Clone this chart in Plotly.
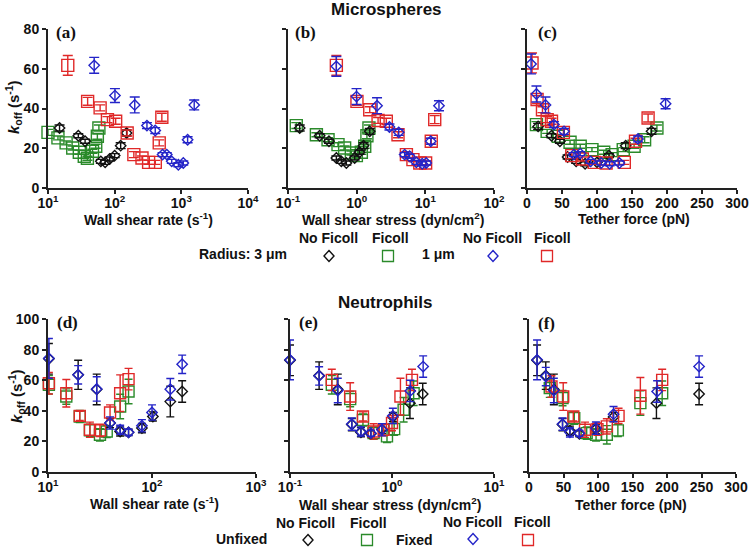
import plotly.graph_objects as go

W, H = 751, 547

# ---------------- colours ----------------
BLACK = "#111111"
GREEN = "#2a8a2a"
BLUE = "#2424c8"
RED = "#e02828"

# ---------------- Panel (a): microspheres vs wall shear rate ----------------
A_BLACK_X = [14.9, 28.5, 36, 62, 72, 84, 100, 123, 151]
A_BLACK_Y = [30.2, 26.3, 23.5, 13.4, 12.9, 14.6, 16.3, 21.3, 27.7]
A_BLACK_E = [1.5, 1, 1, 1, 1, 1, 1, 1.5, 1.5]
A_GREEN_X = [10, 14.1, 18.7, 23.5, 29.5, 35, 39, 46.5, 52, 55, 58]
A_GREEN_Y = [28, 25.2, 22.7, 20.1, 18, 16, 15, 18.5, 21, 26, 30.2]
A_GREEN_E = [1.5, 1, 1, 1, 1, 1, 1, 1, 1, 1.5, 1.5]
A_RED_X = [19.8, 39.3, 60.5, 77.9, 103.5, 154, 194, 257, 323, 407, 466, 510]
A_RED_Y = [61.7, 43.6, 40.3, 34.4, 33.6, 27.7, 16.8, 15.1, 12.9, 12.9, 22.7, 35.6]
A_RED_E = [5, 2, 1.5, 1.5, 1.5, 1.5, 1.5, 1, 1, 1, 1.5, 2]
A_BLUE_X = [49.3, 101, 200, 305, 406, 523, 605, 718, 902, 1070, 1242, 1560]
A_BLUE_Y = [61.7, 46.5, 41.8, 31.4, 28.9, 16.8, 16.8, 13.4, 11.7, 12.6, 24.3, 41.8]
A_BLUE_E = [4, 3.5, 4, 1.5, 1.5, 1, 1, 1, 1, 1, 1.5, 2.5]

# ---------------- Panel (b): microspheres vs wall shear stress ----------------
B_BLACK_X = [0.148, 0.289, 0.395, 0.506, 0.598, 0.708, 0.935, 1.1, 1.26, 1.55]
B_BLACK_Y = [30.2, 26.3, 23.5, 15.1, 13.4, 12.6, 15.1, 18, 21.3, 28.5]
B_BLACK_E = [1.5, 1, 1, 1, 1, 1, 1, 1, 1.5, 1.5]
B_GREEN_X = [0.132, 0.259, 0.383, 0.535, 0.668, 0.836, 0.99, 1.17, 1.31, 1.41, 1.51]
B_GREEN_Y = [31.4, 26.8, 24.3, 21.8, 20.1, 17.6, 16.3, 18, 21, 26.3, 30.2]
B_GREEN_E = [1.5, 1, 1, 1, 1, 1, 1, 1, 1, 1.5, 1.5]
B_RED_X = [0.506, 1.01, 1.55, 2.05, 2.7, 4.0, 5.3, 6.6, 8.3, 10.1, 12.2, 13.7]
B_RED_Y = [61.7, 43.6, 39.4, 34, 33.6, 26.8, 16.8, 14.3, 12.6, 12.6, 23.5, 34.4]
B_RED_E = [5, 2, 1.5, 1.5, 1.5, 1.5, 1.5, 1, 1, 1, 1.5, 2]
B_BLUE_X = [0.506, 0.995, 1.98, 3.0, 4.1, 5.0, 5.9, 7.4, 9.0, 10.3, 12, 15.8]
B_BLUE_Y = [61.2, 46, 41.4, 30.7, 28, 16.8, 16, 12.9, 12.2, 12.6, 23.5, 41.4]
B_BLUE_E = [5, 4, 4, 1.5, 1.5, 1, 1, 1, 1, 1, 1.5, 2.5]

# ---------------- Panel (c): microspheres vs tether force ----------------
C_BLACK_X = [15.9, 35, 47, 58, 70.2, 83, 100, 117, 141, 177.9]
C_BLACK_Y = [31, 26.3, 23.5, 15.6, 13.4, 12.2, 12.9, 16.3, 21.3, 28.5]
C_BLACK_E = [1.5, 1, 1, 1, 1, 1, 1, 1, 1.5, 1.5]
C_GREEN_X = [13.5, 28.8, 44.7, 61.5, 76, 92.8, 109.6, 121.6, 137.5, 153, 168, 185.6]
C_GREEN_Y = [31.9, 28.5, 26, 23, 21, 19.3, 18, 16.8, 19.3, 21, 24.3, 30.2]
C_GREEN_E = [1.5, 1, 1, 1, 1, 1, 1, 1, 1, 1, 1.5, 1.5]
C_RED_X = [7.2, 14.4, 22.1, 28.8, 35, 52, 64, 79, 96, 113, 139, 155, 173]
C_RED_Y = [62.9, 44.5, 39.4, 34.4, 33.6, 28, 16.3, 14.6, 12.9, 12.6, 12.9, 23.5, 35.2]
C_RED_E = [5, 2, 1.5, 1.5, 1.5, 1.5, 1.5, 1, 1, 1, 1, 1.5, 2]
C_BLUE_X = [5.8, 13.5, 26.4, 38.5, 52.9, 67, 76, 91, 106, 118, 132, 158.6, 198]
C_BLUE_Y = [62.4, 47.3, 41.8, 31.9, 28.5, 16.8, 17.3, 13.4, 12.6, 12.2, 12.6, 24.7, 42.4]
C_BLUE_E = [5, 4, 4, 1.5, 1.5, 1, 1, 1, 1, 1, 1, 1.5, 2.5]

# ---------------- Panel (d): neutrophils vs wall shear rate ----------------
D_BLACK_X = [10.2, 19.5, 29.4, 39.5, 49.4, 59.5, 80, 102, 150, 195]
D_BLACK_Y = [74, 63.5, 54, 32, 26.5, 25.9, 28.7, 36.3, 46, 52.6]
D_BLACK_E = [10, 9.5, 10, 3, 3, 2, 3, 3, 10, 7]
D_GREEN_X = [10.2, 15, 20.2, 25.3, 31.6, 36.7, 49.4, 59.5]
D_GREEN_Y = [57, 49.3, 36.3, 27.2, 24.3, 26.5, 42.8, 52.6]
D_GREEN_E = [6, 5, 4, 4, 4, 4, 8, 8]
D_RED_X = [10.2, 15, 20.2, 25.3, 31.6, 39.5, 49.4, 59.5]
D_RED_Y = [58, 51.5, 36.7, 27.6, 27.2, 38.9, 51.5, 60.7]
D_RED_E = [7, 9, 3, 5, 4, 5, 12, 7]
D_BLUE_X = [10.2, 19.5, 29.4, 39.5, 49.4, 59.5, 80, 100, 150, 195]
D_BLUE_Y = [74.3, 63.5, 54.3, 32, 27.6, 25.9, 30.2, 38.9, 54.1, 70.4]
D_BLUE_E = [13, 6, 8, 4, 3, 2, 4, 5, 7, 6]

# ---------------- Panel (e): neutrophils vs wall shear stress ----------------
E_BLACK_X = [0.1, 0.193, 0.294, 0.404, 0.496, 0.621, 0.797, 1.02, 1.5, 2.0]
E_BLACK_Y = [73, 63, 54, 31, 26, 25, 28, 36, 45, 51]
E_BLACK_E = [10, 9, 10, 4, 3, 2, 3, 3, 10, 7]
E_GREEN_X = [0.257, 0.389, 0.519, 0.66, 0.893, 1.05, 1.3, 1.63]
E_GREEN_Y = [57, 47.6, 34, 25.4, 23.3, 28, 40.7, 51.5]
E_GREEN_E = [6, 5, 4, 4, 4, 4, 8, 8]
E_RED_X = [0.257, 0.389, 0.519, 0.66, 0.828, 1.0, 1.21, 1.57]
E_RED_Y = [60.2, 49.3, 36.3, 26.5, 27.6, 32, 49.3, 60.2]
E_RED_E = [7, 9, 3, 5, 4, 5, 12, 7]
E_BLUE_X = [0.1, 0.193, 0.294, 0.404, 0.496, 0.621, 0.797, 1.02, 1.51, 2.02]
E_BLUE_Y = [73.3, 62.8, 53.3, 31.3, 26.5, 25.4, 27.6, 36.7, 53, 68.9]
E_BLUE_E = [13, 6, 8, 4, 3, 2, 4, 5, 7, 7]

# ---------------- Panel (f): neutrophils vs tether force ----------------
F_BLACK_X = [11.7, 24.3, 36, 48.6, 59.3, 73, 97, 122.5, 184.7, 246.5]
F_BLACK_Y = [73, 63, 54, 31, 27, 25, 28, 36, 45, 51]
F_BLACK_E = [10, 9, 10, 4, 3, 2, 3, 3, 10, 7]
F_GREEN_X = [30.1, 48.6, 65.6, 83.6, 97.2, 112.8, 128.8, 161.4, 193]
F_GREEN_Y = [54.8, 48.3, 35.2, 25.4, 24.3, 24.3, 27.2, 45, 51.5]
F_GREEN_E = [6, 5, 4, 4, 4, 6, 4, 8, 8]
F_RED_X = [32.6, 49.6, 64.2, 81.2, 99.2, 112.8, 129.8, 161.4, 193]
F_RED_Y = [55.9, 49.3, 36.3, 27.6, 28, 29.8, 36.7, 49.8, 60.2]
F_RED_E = [7, 9, 3, 5, 4, 5, 5, 12, 7]
F_BLUE_X = [11.7, 24.3, 36, 48.6, 59.3, 73, 97, 122.5, 185.7, 246.5]
F_BLUE_Y = [73.3, 62.4, 53.3, 31.3, 25.9, 25.4, 28.7, 37.8, 52.6, 68.9]
F_BLUE_E = [13, 6, 8, 4, 3, 2, 4, 5, 7, 7]

# ---------------- tick labels ----------------
RATE_TOP_VALS = [10, 100, 1000, 10000]
RATE_TOP_TEXT = ["10<sup>1</sup>", "10<sup>2</sup>", "10<sup>3</sup>", "10<sup>4</sup>"]
STRESS_TOP_VALS = [0.1, 1, 10, 100]
STRESS_TOP_TEXT = ["10<sup>-1</sup>", "10<sup>0</sup>", "10<sup>1</sup>", "10<sup>2</sup>"]
RATE_BOT_VALS = [10, 100, 1000]
RATE_BOT_TEXT = ["10<sup>1</sup>", "10<sup>2</sup>", "10<sup>3</sup>"]
STRESS_BOT_VALS = [0.1, 1, 10]
STRESS_BOT_TEXT = ["10<sup>-1</sup>", "10<sup>0</sup>", "10<sup>1</sup>"]
FORCE_VALS = [0, 50, 100, 150, 200, 250, 300]
KOFF_TOP_VALS = [0, 20, 40, 60, 80]
KOFF_BOT_VALS = [0, 20, 40, 60, 80, 100]

FONT = "Liberation Sans, Arial, Helvetica, sans-serif"


def px_x(p):
    return p / W


def px_y(p):
    return 1 - p / H


fig = go.Figure()


def add_series(n, x, y, e, color, symbol, size, capw):
    fig.add_trace(go.Scatter(
        x=x, y=y, mode="markers",
        xaxis="x" + ("" if n == 1 else str(n)),
        yaxis="y" + ("" if n == 1 else str(n)),
        marker=dict(symbol=symbol, size=size, color=color, line=dict(width=1.4, color=color)),
        error_y=dict(type="data", array=e, visible=True, color=color, thickness=1.4, width=capw),
        cliponaxis=False, showlegend=False, hoverinfo="skip",
    ))


top_sq, top_di, cap_top = 12, 8, 5
bot_sq, bot_di, cap_bot = 11, 8, 4

add_series(1, A_GREEN_X, A_GREEN_Y, A_GREEN_E, GREEN, "square-open", top_sq, cap_top)
add_series(1, A_BLACK_X, A_BLACK_Y, A_BLACK_E, BLACK, "diamond-open", top_di, cap_top)
add_series(1, A_RED_X, A_RED_Y, A_RED_E, RED, "square-open", top_sq, cap_top)
add_series(1, A_BLUE_X, A_BLUE_Y, A_BLUE_E, BLUE, "diamond-open", top_di, cap_top)

add_series(2, B_GREEN_X, B_GREEN_Y, B_GREEN_E, GREEN, "square-open", top_sq, cap_top)
add_series(2, B_BLACK_X, B_BLACK_Y, B_BLACK_E, BLACK, "diamond-open", top_di, cap_top)
add_series(2, B_RED_X, B_RED_Y, B_RED_E, RED, "square-open", top_sq, cap_top)
add_series(2, B_BLUE_X, B_BLUE_Y, B_BLUE_E, BLUE, "diamond-open", top_di, cap_top)

add_series(3, C_GREEN_X, C_GREEN_Y, C_GREEN_E, GREEN, "square-open", top_sq, cap_top)
add_series(3, C_BLACK_X, C_BLACK_Y, C_BLACK_E, BLACK, "diamond-open", top_di, cap_top)
add_series(3, C_RED_X, C_RED_Y, C_RED_E, RED, "square-open", top_sq, cap_top)
add_series(3, C_BLUE_X, C_BLUE_Y, C_BLUE_E, BLUE, "diamond-open", top_di, cap_top)

add_series(4, D_GREEN_X, D_GREEN_Y, D_GREEN_E, GREEN, "square-open", bot_sq, cap_bot)
add_series(4, D_BLACK_X, D_BLACK_Y, D_BLACK_E, BLACK, "diamond-open", bot_di, cap_bot)
add_series(4, D_RED_X, D_RED_Y, D_RED_E, RED, "square-open", bot_sq, cap_bot)
add_series(4, D_BLUE_X, D_BLUE_Y, D_BLUE_E, BLUE, "diamond-open", bot_di, cap_bot)

add_series(5, E_GREEN_X, E_GREEN_Y, E_GREEN_E, GREEN, "square-open", bot_sq, cap_bot)
add_series(5, E_BLACK_X, E_BLACK_Y, E_BLACK_E, BLACK, "diamond-open", bot_di, cap_bot)
add_series(5, E_RED_X, E_RED_Y, E_RED_E, RED, "square-open", bot_sq, cap_bot)
add_series(5, E_BLUE_X, E_BLUE_Y, E_BLUE_E, BLUE, "diamond-open", bot_di, cap_bot)

add_series(6, F_GREEN_X, F_GREEN_Y, F_GREEN_E, GREEN, "square-open", bot_sq, cap_bot)
add_series(6, F_BLACK_X, F_BLACK_Y, F_BLACK_E, BLACK, "diamond-open", bot_di, cap_bot)
add_series(6, F_RED_X, F_RED_Y, F_RED_E, RED, "square-open", bot_sq, cap_bot)
add_series(6, F_BLUE_X, F_BLUE_Y, F_BLUE_E, BLUE, "diamond-open", bot_di, cap_bot)

TICKFONT = dict(family=FONT, size=14, color="#111111", weight="bold")


def xax(dom, anchor, typ, rng, vals, text):
    d = dict(domain=[px_x(dom[0]), px_x(dom[1])], anchor=anchor, type=typ, range=rng,
             tickmode="array", tickvals=vals, showline=True, linecolor="#222222", linewidth=2,
             ticks="outside", ticklen=4, tickwidth=2, tickcolor="#222222",
             showgrid=False, zeroline=False, tickfont=TICKFONT, automargin=False,
             ticklabelstandoff=-3)
    if text is not None:
        d["ticktext"] = text
    return d


def yax(dom, anchor, rng, vals, labels):
    return dict(domain=[px_y(dom[1]), px_y(dom[0])], anchor=anchor, range=rng,
                tickmode="array", tickvals=vals, showticklabels=labels,
                showline=True, linecolor="#222222", linewidth=2,
                ticks="outside", ticklen=4, tickwidth=2, tickcolor="#222222",
                showgrid=False, zeroline=False, tickfont=TICKFONT, automargin=False,
                ticklabelstandoff=0)


TOP = (29, 188)
BOT = (319, 472)

fig.update_layout(
    xaxis=xax((48, 248), "y", "log", [1, 4], RATE_TOP_VALS, RATE_TOP_TEXT),
    yaxis=yax(TOP, "x", [0, 80], KOFF_TOP_VALS, True),
    xaxis2=xax((288, 494), "y2", "log", [-1, 2], STRESS_TOP_VALS, STRESS_TOP_TEXT),
    yaxis2=yax(TOP, "x2", [0, 80], KOFF_TOP_VALS, False),
    xaxis3=xax((527, 737), "y3", "linear", [0, 300], FORCE_VALS, None),
    yaxis3=yax(TOP, "x3", [0, 80], KOFF_TOP_VALS, False),
    xaxis4=xax((48, 256), "y4", "log", [1, 3], RATE_BOT_VALS, RATE_BOT_TEXT),
    yaxis4=yax(BOT, "x4", [0, 100], KOFF_BOT_VALS, True),
    xaxis5=xax((290, 494), "y5", "log", [-1, 1], STRESS_BOT_VALS, STRESS_BOT_TEXT),
    yaxis5=yax(BOT, "x5", [0, 100], KOFF_BOT_VALS, False),
    xaxis6=xax((529, 736), "y6", "linear", [0, 300], FORCE_VALS, None),
    yaxis6=yax(BOT, "x6", [0, 100], KOFF_BOT_VALS, False),
    width=W, height=H, autosize=False,
    margin=dict(l=0, r=0, t=0, b=0, pad=0, autoexpand=False),
    paper_bgcolor="white", plot_bgcolor="white",
    font=dict(family=FONT, color="#111111"),
)

ann = []
shapes = []


def text(px, py, s, size=14, color="#111111", family=FONT, bold=True, angle=0):
    ann.append(dict(x=px_x(px), y=px_y(py), xref="paper", yref="paper", text=s,
                    showarrow=False, xanchor="center", yanchor="middle", textangle=angle,
                    font=dict(family=family, size=size, color=color,
                              weight="bold" if bold else "normal")))


def leg_square(cx, cy, color, s=11):
    shapes.append(dict(type="rect", xref="paper", yref="paper",
                       x0=px_x(cx - s / 2), x1=px_x(cx + s / 2),
                       y0=px_y(cy + s / 2), y1=px_y(cy - s / 2),
                       line=dict(color=color, width=1.3), fillcolor="rgba(0,0,0,0)"))


def leg_diamond(cx, cy, color, w=10, h=11):
    pts = [(cx, cy - h / 2), (cx + w / 2, cy), (cx, cy + h / 2), (cx - w / 2, cy)]
    path = "M " + " L ".join(f"{px_x(a):.5f},{px_y(b):.5f}" for a, b in pts) + " Z"
    shapes.append(dict(type="path", xref="paper", yref="paper", path=path,
                       line=dict(color=color, width=1.4), fillcolor="rgba(0,0,0,0)"))


# titles
text(386, 9, "Microspheres", size=17)
text(385, 302, "Neutrophils", size=17)

# panel letters
SERIF = "Liberation Serif, Times New Roman, serif"
for (px, py, s) in [(66, 33, "(a)"), (305, 33, "(b)"), (547, 33, "(c)"),
                    (67, 322, "(d)"), (308, 322, "(e)"), (546, 323, "(f)")]:
    text(px, py, s, size=17, family=SERIF)

# axis titles
text(148, 219, "Wall shear rate (s<sup>-1</sup>)", size=14)
text(393, 219, "Wall shear stress (dyn/cm<sup>2</sup>)", size=14)
text(634, 219, "Tether force (pN)", size=14)
text(154, 503, "Wall shear rate (s<sup>-1</sup>)", size=14)
text(390, 504, "Wall shear stress (dyn/cm<sup>2</sup>)", size=14)
text(631, 505, "Tether force (pN)", size=14)
KOFF = "<i>k</i><sub>off</sub> (s<sup>-1</sup>)"
text(13, 107, KOFF, size=15, angle=-90)
text(16, 396, KOFF, size=15, angle=-90)

# legend (top)
text(328, 238, "No Ficoll", size=14)
text(390, 238, "Ficoll", size=14)
text(492, 238, "No Ficoll", size=14)
text(552, 238, "Ficoll", size=14)
text(243, 254, "Radius: 3 μm", size=14)
text(438, 254, "1 μm", size=14)
leg_diamond(329, 256, BLACK)
leg_square(388, 256, GREEN)
leg_diamond(493, 256, BLUE)
leg_square(547, 256, RED)

# legend (bottom)
text(305, 523, "No Ficoll", size=14)
text(368, 523, "Ficoll", size=14)
text(472, 522, "No Ficoll", size=14)
text(532, 522, "Ficoll", size=14)
text(241, 539, "Unfixed", size=14)
text(414, 540, "Fixed", size=14)
leg_diamond(308, 540, BLACK)
leg_square(367, 540, GREEN)
leg_diamond(473, 539, BLUE)
leg_square(528, 540, RED)

fig.update_layout(annotations=ann, shapes=shapes)

fig.write_html(
    "out.html",
    config={"displayModeBar": False},
    post_script="document.body.style.margin='0px';document.body.style.padding='0px';document.body.style.overflow='hidden';",
)
